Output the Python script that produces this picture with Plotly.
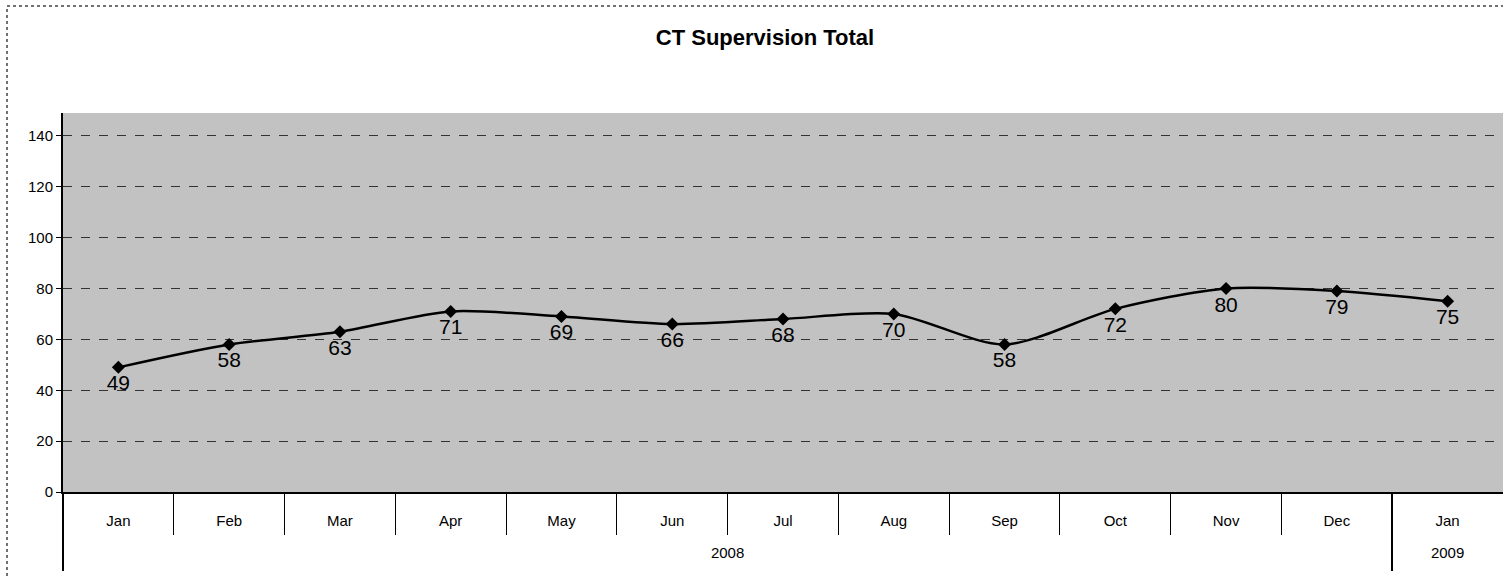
import plotly.graph_objects as go

months = ["Jan", "Feb", "Mar", "Apr", "May", "Jun", "Jul", "Aug", "Sep", "Oct", "Nov", "Dec", "Jan"]
years = ["2008", "2009"]
year_spans = [(0, 11), (12, 12)]  # first and last month index of each year
values = [49, 58, 63, 71, 69, 66, 68, 70, 58, 72, 80, 79, 75]
y_ticks = [0, 20, 40, 60, 80, 100, 120, 140]

x_idx = list(range(len(months)))
month_bounds = [i + 0.5 for i in x_idx[:-1] if (i + 1) not in [s for s, _ in year_spans]]
year_centers = [(s + e) / 2 for s, e in year_spans]
year_bounds = [s - 0.5 for s, _ in year_spans]
xr = [-0.5, len(months) - 0.5]

FONT = "Arial, Liberation Sans, sans-serif"

fig = go.Figure()
fig.add_trace(go.Scatter(
    x=x_idx, y=values,
    mode="lines+markers+text",
    line=dict(color="black", width=2.5, shape="spline", smoothing=0.8),
    marker=dict(symbol="diamond", size=10, color="black"),
    text=[str(v) for v in values],
    textposition="bottom center",
    textfont=dict(family=FONT, size=21, color="black"),
    cliponaxis=False,
    showlegend=False,
))
fig.add_trace(go.Scatter(x=[None], y=[None], xaxis="x2", showlegend=False, hoverinfo="skip"))

W, H = 1503, 577
L, R, T, B = 63, 0, 113, 85
pw, ph = W - L - R, H - T - B

def px(x):
    return (x - L) / pw

def py(y):
    return (H - B - y) / ph

fig.update_layout(
    width=W, height=H,
    margin=dict(l=L, r=R, t=T, b=B),
    paper_bgcolor="white",
    plot_bgcolor="#c2c2c2",
    title=dict(text="<b>CT Supervision Total</b>", x=765 / W, xanchor="center",
               y=1 - 37 / H, yanchor="middle",
               font=dict(family=FONT, size=22, color="black")),
    font=dict(family=FONT, size=15, color="black"),
    xaxis=dict(
        range=xr, automargin=False,
        tickmode="array", tickvals=x_idx, ticktext=months,
        ticks="", ticklabelstandoff=14,
        showgrid=False, zeroline=False,
        showline=True, linecolor="black", linewidth=2,
        tickfont=dict(size=15),
        minor=dict(tickmode="array", tickvals=month_bounds + [xr[1]], ticks="outside",
                   ticklen=41, tickcolor="black", tickwidth=1, showgrid=False),
    ),
    xaxis2=dict(
        range=xr, overlaying="x", side="bottom", anchor="y", automargin=False,
        tickmode="array", tickvals=year_centers, ticktext=years,
        ticks="", ticklabelstandoff=50,
        showgrid=False, zeroline=False, showline=False,
        tickfont=dict(size=15),
        minor=dict(tickmode="array", tickvals=year_bounds, ticks="outside",
                   ticklen=78, tickcolor="black", tickwidth=1.5, showgrid=False),
    ),
    yaxis=dict(
        range=[0, 149], automargin=False,
        tickvals=y_ticks,
        showgrid=True, gridcolor="#333333", gridwidth=1, griddash="dash",
        showline=True, linecolor="black", linewidth=2,
        ticks="outside", ticklen=5, tickcolor="black",
        zeroline=False,
        tickfont=dict(size=15),
    ),
    shapes=[dict(type="rect", xref="paper", yref="paper",
                 x0=px(7), x1=px(1510), y0=py(585), y1=py(6),
                 line=dict(color="#444444", width=1.5, dash="dot"),
                 fillcolor="rgba(0,0,0,0)", layer="below")],
)

fig.write_html("out.html", config={"displayModeBar": False},
               post_script="document.body.style.margin='0';")
